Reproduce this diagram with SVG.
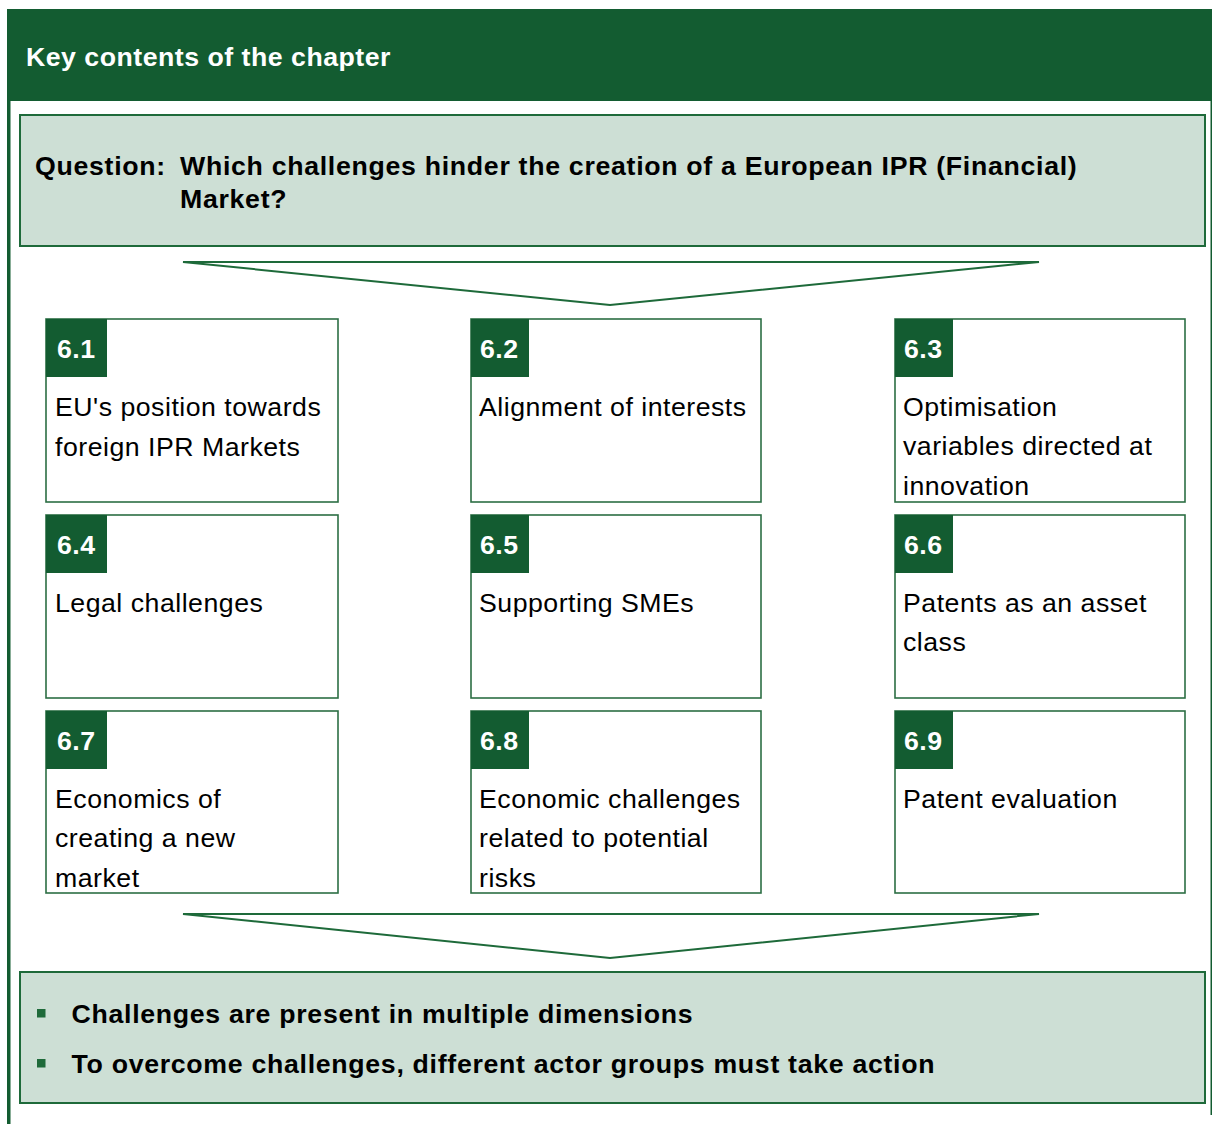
<svg xmlns="http://www.w3.org/2000/svg" width="1212" height="1124" viewBox="0 0 1212 1124">
<style>
  .hdr { fill: #135C31; }
  .pale { fill: #CDDFD5; stroke: #1E6A3A; stroke-width: 2; }
  .box { fill: #FFFFFF; stroke: #2C6E44; stroke-width: 1.6; }
  .tag { fill: #135C31; }
  .chev { fill: #FFFFFF; stroke: #1E6A3A; stroke-width: 2; stroke-linejoin: miter; }
  .t { font-family: "Liberation Sans", Arial, sans-serif; font-size: 26.7px; letter-spacing: 0.5px; }
  .b { font-weight: bold; }
  .wide { letter-spacing: 0.7px; }
  .w { fill: #FFFFFF; }
  .k { fill: #000000; }
  .bul { fill: #1E6A3A; }
</style>
<rect x="0" y="0" width="1212" height="1124" fill="#FFFFFF"/>
<g id="frame">
  <rect class="hdr" x="7" y="9" width="1205" height="92"/>
  <rect class="hdr" x="7" y="100" width="3.5" height="1024"/>
  <rect class="hdr" x="1210.5" y="100" width="1.5" height="1015"/>
  <text class="t b w" x="26" y="65.5">Key contents of the chapter</text>
</g>
<g id="question">
  <rect class="pale" x="20" y="115" width="1185" height="131"/>
  <text class="t b k wide" x="35" y="175">Question:</text>
  <text class="t b k wide" x="180" y="175">Which challenges hinder the creation of a European IPR (Financial)</text>
  <text class="t b k wide" x="180" y="208">Market?</text>
</g>
<g id="connectors">
  <polygon class="chev" points="183,262 1039,262 610,305"/>
  <polygon class="chev" points="183,914 1039,914 610,958"/>
</g>
<g id="n61">
  <rect class="box" x="46" y="319" width="292" height="183"/>
  <rect class="tag" x="46" y="319" width="61" height="58"/>
  <text class="t b w" x="57" y="358">6.1</text>
  <text class="t k" x="55" y="416">EU's position towards</text>
  <text class="t k" x="55" y="456">foreign IPR Markets</text>
</g>
<g id="n62">
  <rect class="box" x="471" y="319" width="290" height="183"/>
  <rect class="tag" x="471" y="319" width="58" height="58"/>
  <text class="t b w" x="480" y="358">6.2</text>
  <text class="t k" x="479" y="416">Alignment of interests</text>
</g>
<g id="n63">
  <rect class="box" x="895" y="319" width="290" height="183"/>
  <rect class="tag" x="895" y="319" width="58" height="58"/>
  <text class="t b w" x="904" y="358">6.3</text>
  <text class="t k" x="903" y="416">Optimisation</text>
  <text class="t k" x="903" y="455">variables directed at</text>
  <text class="t k" x="903" y="495">innovation</text>
</g>
<g id="n64">
  <rect class="box" x="46" y="515" width="292" height="183"/>
  <rect class="tag" x="46" y="515" width="61" height="58"/>
  <text class="t b w" x="57" y="554">6.4</text>
  <text class="t k" x="55" y="612">Legal challenges</text>
</g>
<g id="n65">
  <rect class="box" x="471" y="515" width="290" height="183"/>
  <rect class="tag" x="471" y="515" width="58" height="58"/>
  <text class="t b w" x="480" y="554">6.5</text>
  <text class="t k" x="479" y="612">Supporting SMEs</text>
</g>
<g id="n66">
  <rect class="box" x="895" y="515" width="290" height="183"/>
  <rect class="tag" x="895" y="515" width="58" height="58"/>
  <text class="t b w" x="904" y="554">6.6</text>
  <text class="t k" x="903" y="612">Patents as an asset</text>
  <text class="t k" x="903" y="651">class</text>
</g>
<g id="n67">
  <rect class="box" x="46" y="711" width="292" height="182"/>
  <rect class="tag" x="46" y="711" width="61" height="58"/>
  <text class="t b w" x="57" y="750">6.7</text>
  <text class="t k" x="55" y="808">Economics of</text>
  <text class="t k" x="55" y="847">creating a new</text>
  <text class="t k" x="55" y="887">market</text>
</g>
<g id="n68">
  <rect class="box" x="471" y="711" width="290" height="182"/>
  <rect class="tag" x="471" y="711" width="58" height="58"/>
  <text class="t b w" x="480" y="750">6.8</text>
  <text class="t k" x="479" y="808">Economic challenges</text>
  <text class="t k" x="479" y="847">related to potential</text>
  <text class="t k" x="479" y="887">risks</text>
</g>
<g id="n69">
  <rect class="box" x="895" y="711" width="290" height="182"/>
  <rect class="tag" x="895" y="711" width="58" height="58"/>
  <text class="t b w" x="904" y="750">6.9</text>
  <text class="t k" x="903" y="808">Patent evaluation</text>
</g>
<g id="conclusion">
  <rect class="pale" x="20" y="972" width="1185" height="131"/>
  <rect class="bul" x="37" y="1009" width="8.5" height="8.5"/>
  <text class="t b k wide" x="71.5" y="1023">Challenges are present in multiple dimensions</text>
  <rect class="bul" x="37" y="1059" width="8.5" height="8.5"/>
  <text class="t b k wide" x="71.5" y="1073">To overcome challenges, different actor groups must take action</text>
</g>
</svg>
